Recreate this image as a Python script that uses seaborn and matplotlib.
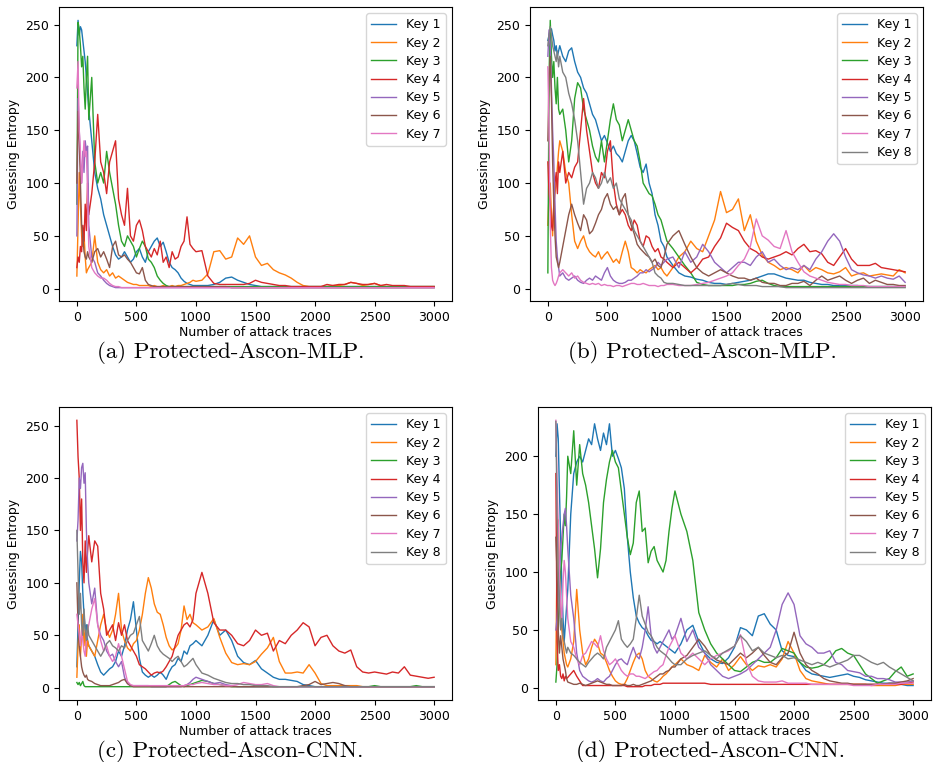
import matplotlib
matplotlib.use("Agg")
import matplotlib.pyplot as plt
import seaborn as sns
import pandas as pd

# ---------------- data ----------------
TRACES = [0, 10, 20, 30, 40, 50, 60, 70, 80, 90, 100,
          125, 150, 175, 200, 225, 250, 275, 300, 325, 350, 375, 400, 425, 450, 475, 500, 525, 550,
          575, 600, 625, 650, 675, 700, 725, 750, 775, 800, 825, 850, 875, 900, 925, 950, 975, 1000,
          1050, 1100, 1150, 1200, 1250, 1300, 1350, 1400, 1450, 1500, 1550, 1600, 1650, 1700, 1750, 1800, 1850, 1900, 1950, 2000,
          2050, 2100, 2150, 2200, 2250, 2300, 2350, 2400, 2450, 2500, 2550, 2600, 2650, 2700, 2750, 2800, 2850, 2900, 2950, 3000]

# ----- (a) Protected-Ascon-MLP, 7 keys -----
a_key1 = [230, 254, 240, 248, 245, 235, 225, 215, 200, 185, 170,
          140, 110, 95, 85, 70, 60, 50, 40, 32, 28, 30, 35, 30, 25, 28, 35, 38, 30,
          25, 35, 40, 45, 48, 40, 44, 35, 25, 20, 18, 15, 10, 7, 5, 4, 3, 3,
          3, 3, 4, 6, 10, 11, 8, 6, 4, 3, 2, 2, 2, 2, 2, 2, 2, 2, 2, 2,
          2, 2, 2, 2, 2, 2, 2, 2, 2, 2, 2, 2, 2, 2, 2, 2, 2, 2, 2, 2]
a_key2 = [12, 60, 110, 80, 50, 40, 52, 30, 15, 18, 20,
          25, 50, 25, 18, 15, 18, 12, 15, 10, 12, 10, 8, 6, 5, 4, 4, 3, 3,
          3, 3, 2, 3, 2, 2, 3, 2, 2, 3, 2, 3, 3, 4, 5, 6, 8, 7,
          8, 14, 35, 36, 28, 30, 48, 42, 50, 30, 22, 24, 18, 15, 13, 10, 6, 3, 2, 2,
          2, 2, 3, 3, 4, 6, 5, 3, 4, 5, 3, 2, 2, 2, 2, 2, 2, 2, 2, 2]
a_key3 = [80, 252, 245, 230, 210, 220, 190, 170, 200, 220, 160,
          200, 120, 100, 110, 100, 130, 110, 95, 80, 60, 45, 40, 50, 45, 40, 30, 38, 45,
          40, 28, 25, 20, 12, 8, 5, 3, 2, 2, 2, 2, 2, 2, 2, 2, 2, 2,
          2, 2, 2, 2, 2, 2, 2, 2, 2, 2, 2, 2, 2, 2, 2, 2, 2, 2, 2, 2,
          2, 2, 2, 2, 2, 2, 2, 2, 2, 2, 2, 2, 2, 2, 2, 2, 2, 2, 2, 2]
a_key4 = [20, 30, 25, 40, 35, 60, 45, 80, 55, 100, 70,
          90, 120, 165, 120, 110, 90, 120, 130, 140, 85, 70, 60, 95, 50, 45, 60, 65, 55,
          40, 35, 30, 38, 32, 45, 25, 30, 20, 35, 28, 30, 40, 45, 68, 42, 38, 35,
          36, 12, 5, 4, 4, 4, 4, 4, 5, 8, 6, 5, 4, 3, 3, 2, 2, 2, 2, 2,
          2, 4, 3, 4, 4, 6, 5, 4, 4, 5, 3, 4, 3, 3, 3, 2, 2, 2, 2, 2]
a_key5 = [50, 180, 150, 120, 100, 130, 110, 140, 130, 135, 60,
          30, 25, 15, 12, 8, 5, 3, 2, 1, 1, 1, 1, 1, 1, 1, 1, 1, 1,
          1, 1, 1, 1, 1, 1, 1, 1, 1, 1, 1, 1, 1, 1, 1, 1, 1, 1,
          1, 1, 1, 1, 1, 1, 1, 1, 1, 1, 1, 1, 1, 1, 1, 1, 1, 1, 1, 1,
          1, 1, 1, 1, 1, 1, 1, 1, 1, 1, 1, 1, 1, 1, 1, 1, 1, 1, 1, 1]
a_key6 = [100, 168, 140, 100, 60, 50, 35, 30, 28, 35, 30,
          25, 35, 38, 30, 35, 28, 20, 40, 45, 32, 30, 32, 28, 25, 20, 15, 14, 20,
          8, 4, 3, 2, 2, 2, 2, 2, 2, 2, 2, 2, 2, 2, 2, 2, 2, 2,
          2, 2, 2, 2, 2, 1, 1, 1, 1, 1, 1, 1, 1, 1, 1, 1, 1, 1, 1, 1,
          1, 1, 1, 1, 1, 1, 1, 1, 1, 1, 1, 1, 1, 1, 1, 1, 1, 1, 1, 1]
a_key7 = [190, 215, 150, 130, 100, 120, 140, 125, 130, 90, 40,
          20, 15, 12, 10, 10, 8, 5, 3, 2, 2, 1, 1, 1, 1, 1, 1, 1, 1,
          1, 1, 1, 1, 1, 1, 1, 1, 1, 1, 1, 1, 1, 1, 1, 1, 1, 1,
          1, 1, 1, 1, 1, 1, 1, 1, 1, 1, 1, 1, 1, 1, 1, 1, 1, 1, 1, 1,
          1, 1, 1, 1, 1, 1, 1, 1, 1, 1, 1, 1, 1, 1, 1, 1, 1, 1, 1, 1]

# ----- (b) Protected-Ascon-MLP, 8 keys -----
b_key1 = [235, 240, 245, 246, 240, 235, 225, 230, 220, 225, 230,
          220, 215, 225, 228, 215, 205, 200, 190, 185, 175, 165, 160, 150, 140, 145, 138, 130, 135,
          128, 125, 120, 130, 140, 145, 140, 128, 115, 110, 118, 100, 90, 70, 60, 45, 40, 30,
          22, 15, 12, 11, 9, 8, 6, 5, 5, 4, 5, 6, 7, 8, 10, 12, 14, 14, 12, 10,
          9, 8, 8, 6, 5, 4, 4, 3, 3, 3, 3, 3, 2, 2, 2, 2, 2, 2, 2, 2]
b_key2 = [60, 90, 100, 70, 50, 80, 90, 100, 115, 130, 140,
          130, 110, 100, 70, 45, 38, 45, 50, 40, 35, 32, 30, 35, 28, 32, 35, 30, 25,
          28, 24, 35, 45, 35, 20, 18, 15, 18, 16, 15, 18, 20, 22, 18, 20, 15, 12,
          20, 30, 35, 45, 38, 35, 50, 65, 92, 72, 75, 85, 55, 70, 45, 32, 25, 22, 18, 20,
          18, 15, 22, 16, 20, 18, 15, 14, 16, 20, 12, 14, 15, 12, 13, 14, 13, 12, 18, 15]
b_key3 = [15, 200, 254, 220, 200, 215, 190, 175, 200, 170, 165,
          170, 150, 120, 140, 180, 195, 190, 170, 160, 150, 135, 125, 120, 140, 120, 140, 160, 175,
          160, 155, 140, 150, 160, 150, 140, 135, 120, 100, 95, 90, 88, 80, 70, 65, 55, 45,
          38, 30, 22, 15, 6, 4, 3, 3, 3, 3, 3, 4, 4, 5, 7, 8, 5, 3, 2, 2,
          2, 2, 2, 2, 2, 2, 2, 2, 2, 2, 2, 2, 2, 2, 2, 2, 2, 2, 2, 2]
b_key4 = [120, 90, 80, 60, 55, 80, 100, 110, 90, 120, 110,
          130, 100, 110, 105, 115, 120, 150, 180, 150, 130, 110, 100, 95, 110, 105, 130, 140, 100,
          80, 70, 75, 70, 60, 55, 65, 60, 45, 40, 50, 48, 40, 35, 38, 30, 28, 25,
          20, 25, 20, 15, 20, 28, 30, 40, 48, 62, 58, 55, 45, 38, 35, 30, 28, 30, 32, 35,
          32, 38, 42, 35, 36, 33, 25, 22, 30, 38, 28, 22, 22, 22, 24, 20, 19, 18, 17, 16]
b_key5 = [220, 245, 230, 190, 150, 120, 80, 45, 30, 20, 12,
          15, 10, 8, 10, 12, 8, 6, 5, 8, 10, 8, 12, 10, 8, 15, 20, 12, 8,
          6, 5, 5, 6, 8, 8, 10, 12, 15, 15, 18, 16, 18, 20, 25, 22, 25, 28,
          30, 20, 35, 25, 30, 42, 35, 25, 20, 15, 20, 25, 25, 22, 30, 35, 25, 28, 22, 18,
          20, 18, 22, 18, 28, 35, 45, 52, 45, 30, 18, 15, 13, 12, 10, 12, 10, 9, 12, 6]
b_key6 = [140, 200, 220, 180, 120, 80, 50, 30, 25, 20, 25,
          40, 55, 70, 80, 70, 62, 55, 70, 65, 52, 55, 62, 70, 75, 85, 90, 80, 75,
          78, 70, 85, 90, 70, 60, 52, 42, 38, 35, 32, 30, 25, 28, 22, 20, 30, 42,
          50, 55, 42, 30, 20, 15, 12, 15, 18, 15, 12, 10, 10, 8, 10, 6, 5, 5, 3, 3,
          5, 5, 7, 3, 8, 12, 8, 10, 12, 8, 5, 8, 10, 5, 8, 6, 4, 4, 3, 3]
b_key7 = [210, 150, 60, 20, 8, 5, 3, 5, 8, 12, 15,
          18, 15, 12, 15, 10, 12, 8, 6, 5, 4, 5, 4, 5, 3, 4, 3, 3, 2,
          3, 3, 2, 3, 4, 5, 5, 4, 4, 5, 4, 3, 3, 3, 2, 3, 3, 4,
          4, 3, 3, 3, 4, 5, 6, 8, 10, 12, 15, 22, 28, 40, 66, 50, 46, 40, 38, 55,
          35, 25, 16, 12, 10, 8, 6, 5, 4, 4, 3, 3, 3, 2, 2, 2, 2, 2, 2, 2]
b_key8 = [230, 240, 248, 240, 230, 225, 220, 215, 225, 210, 220,
          205, 200, 185, 175, 160, 140, 110, 80, 95, 100, 110, 105, 95, 100, 110, 100, 105, 95,
          100, 85, 80, 75, 70, 65, 55, 50, 45, 40, 35, 30, 25, 15, 12, 10, 6, 5,
          5, 4, 3, 3, 3, 3, 3, 3, 3, 4, 5, 4, 3, 3, 3, 2, 2, 2, 2, 1,
          1, 1, 1, 1, 1, 1, 1, 1, 1, 1, 1, 1, 1, 1, 1, 1, 1, 1, 1, 1]

# ----- (c) Protected-Ascon-CNN, 8 keys -----
c_key1 = [20, 60, 100, 130, 120, 90, 70, 55, 60, 45, 40,
          35, 30, 22, 15, 12, 15, 18, 20, 25, 35, 30, 40, 55, 65, 82, 55, 28, 15,
          12, 10, 12, 10, 12, 15, 12, 8, 15, 20, 22, 28, 25, 35, 32, 40, 42, 45,
          40, 50, 65, 50, 55, 45, 30, 24, 22, 26, 18, 14, 10, 8, 8, 7, 6, 3, 2, 1,
          1, 1, 1, 1, 1, 1, 1, 1, 1, 1, 1, 1, 1, 1, 1, 1, 1, 1, 1, 1]
c_key2 = [10, 40, 60, 30, 50, 70, 40, 55, 30, 45, 40,
          35, 30, 45, 60, 70, 55, 48, 55, 70, 90, 55, 45, 38, 35, 42, 45, 55, 70,
          90, 105, 95, 80, 72, 70, 60, 48, 40, 36, 38, 42, 55, 78, 65, 70, 62, 60,
          55, 58, 66, 48, 33, 24, 22, 23, 22, 25, 32, 38, 48, 25, 14, 14, 15, 14, 22, 14,
          4, 2, 2, 2, 2, 2, 2, 1, 1, 1, 1, 1, 1, 1, 1, 1, 1, 1, 1, 1]
c_key3 = [5, 3, 5, 2, 4, 6, 2, 1, 1, 1, 1,
          1, 1, 1, 1, 1, 1, 1, 1, 1, 1, 1, 1, 1, 1, 1, 1, 1, 1,
          1, 1, 1, 1, 1, 1, 1, 1, 3, 5, 6, 4, 2, 1, 2, 3, 4, 5,
          7, 6, 4, 3, 2, 1, 1, 1, 1, 1, 1, 1, 1, 1, 1, 1, 1, 1, 1, 1,
          1, 1, 1, 1, 1, 1, 1, 1, 1, 2, 1, 1, 1, 1, 1, 1, 2, 1, 1, 1]
c_key4 = [255, 220, 200, 150, 180, 120, 100, 140, 110, 130, 145,
          120, 140, 135, 90, 75, 50, 55, 60, 45, 62, 50, 60, 45, 40, 35, 30, 22, 20,
          18, 15, 12, 14, 15, 14, 16, 20, 25, 30, 40, 50, 55, 60, 62, 58, 65, 90,
          110, 90, 62, 55, 55, 50, 42, 40, 45, 55, 50, 52, 35, 45, 42, 50, 55, 62, 58, 40,
          48, 50, 40, 35, 33, 36, 20, 15, 14, 15, 14, 13, 15, 14, 20, 12, 11, 10, 9, 10]
c_key5 = [140, 160, 200, 190, 210, 214, 195, 205, 150, 120, 100,
          80, 95, 60, 50, 45, 35, 30, 32, 25, 20, 25, 10, 4, 2, 2, 2, 2, 2,
          2, 2, 1, 1, 1, 1, 1, 1, 1, 1, 1, 1, 1, 2, 3, 5, 8, 10,
          8, 6, 4, 5, 3, 2, 1, 1, 1, 1, 1, 1, 1, 1, 1, 1, 1, 1, 1, 1,
          1, 1, 1, 1, 1, 1, 1, 1, 1, 1, 1, 1, 1, 1, 1, 1, 1, 1, 1, 1]
c_key6 = [100, 60, 40, 30, 20, 15, 12, 10, 12, 8, 7,
          6, 4, 3, 2, 2, 2, 2, 3, 4, 5, 7, 8, 4, 2, 1, 1, 1, 1,
          1, 1, 1, 1, 1, 1, 1, 1, 1, 1, 1, 1, 1, 1, 1, 1, 1, 1,
          1, 1, 1, 1, 1, 1, 1, 1, 1, 1, 1, 1, 1, 1, 1, 1, 1, 2, 3, 6,
          3, 4, 5, 4, 2, 1, 1, 1, 1, 1, 1, 1, 1, 1, 1, 1, 1, 1, 1, 1]
c_key7 = [70, 60, 50, 40, 55, 45, 35, 30, 45, 55, 60,
          75, 85, 60, 45, 35, 40, 30, 25, 30, 42, 30, 18, 6, 3, 2, 2, 2, 2,
          2, 2, 2, 2, 2, 2, 2, 2, 2, 2, 2, 2, 2, 2, 3, 3, 3, 4,
          5, 4, 3, 3, 2, 2, 3, 5, 4, 3, 3, 4, 2, 1, 1, 1, 1, 1, 1, 1,
          1, 1, 1, 1, 1, 1, 1, 1, 1, 1, 1, 1, 1, 1, 1, 1, 1, 1, 1, 1]
c_key8 = [150, 110, 70, 90, 60, 50, 75, 55, 45, 60, 50,
          45, 40, 35, 30, 35, 42, 45, 40, 38, 35, 40, 38, 45, 50, 52, 60, 68, 45,
          40, 35, 42, 50, 40, 35, 32, 30, 28, 25, 28, 30, 25, 20, 22, 25, 28, 22,
          14, 12, 9, 7, 5, 4, 4, 3, 3, 2, 2, 2, 1, 1, 1, 1, 1, 1, 1, 1,
          1, 1, 1, 1, 1, 1, 1, 1, 1, 1, 1, 1, 1, 1, 1, 1, 1, 1, 1, 1]

# ----- (d) Protected-Ascon-CNN, 8 keys -----
d_key1 = [200, 228, 215, 170, 130, 90, 60, 40, 55, 70, 85,
          150, 185, 195, 200, 195, 205, 215, 210, 228, 215, 205, 220, 210, 228, 200, 205, 198, 190,
          172, 130, 100, 78, 62, 56, 52, 50, 45, 41, 40, 38, 40, 38, 36, 34, 32, 30,
          38, 50, 54, 40, 30, 25, 22, 21, 26, 35, 52, 50, 45, 62, 64, 55, 50, 32, 28, 27,
          22, 15, 12, 11, 10, 9, 10, 11, 12, 10, 9, 7, 6, 5, 4, 4, 4, 3, 2, 2]
d_key2 = [20, 120, 145, 100, 70, 50, 40, 30, 25, 20, 18,
          25, 40, 85, 50, 30, 20, 25, 35, 42, 38, 30, 28, 22, 15, 10, 6, 4, 3,
          3, 8, 15, 22, 28, 30, 25, 15, 10, 8, 6, 5, 7, 10, 12, 15, 18, 20,
          25, 20, 18, 15, 28, 22, 18, 25, 15, 20, 27, 20, 15, 19, 18, 20, 18, 25, 40, 30,
          15, 8, 6, 5, 4, 3, 3, 3, 3, 3, 3, 3, 2, 2, 2, 2, 2, 3, 3, 3]
d_key3 = [5, 20, 50, 80, 100, 110, 130, 150, 140, 165, 200,
          185, 222, 175, 210, 185, 175, 160, 140, 120, 95, 120, 160, 180, 195, 205, 195, 190, 170,
          150, 130, 115, 125, 160, 170, 135, 138, 108, 118, 122, 110, 105, 100, 110, 135, 155, 170,
          150, 135, 110, 65, 50, 38, 30, 25, 20, 15, 14, 18, 22, 24, 22, 22, 26, 34, 32, 30,
          22, 18, 17, 18, 20, 25, 32, 34, 30, 28, 20, 12, 8, 4, 6, 8, 14, 18, 10, 12]
d_key4 = [185, 40, 15, 20, 10, 8, 12, 6, 10, 8, 9,
          12, 15, 10, 6, 2, 2, 2, 2, 2, 2, 2, 2, 2, 2, 2, 2, 2, 2,
          2, 1, 1, 1, 1, 1, 1, 2, 2, 2, 3, 3, 3, 4, 4, 4, 4, 4,
          4, 4, 4, 4, 4, 3, 3, 3, 3, 3, 3, 3, 3, 3, 3, 3, 3, 3, 3, 3,
          3, 3, 3, 3, 3, 3, 3, 3, 3, 3, 3, 3, 3, 3, 3, 3, 3, 3, 4, 5]
d_key5 = [50, 60, 80, 100, 120, 130, 140, 150, 155, 140, 120,
          80, 60, 30, 15, 10, 8, 6, 5, 6, 8, 6, 5, 8, 10, 15, 20, 24, 25,
          22, 20, 28, 35, 28, 25, 35, 50, 70, 45, 35, 30, 35, 40, 45, 50, 42, 45,
          60, 40, 50, 35, 30, 20, 15, 10, 8, 10, 12, 15, 20, 25, 30, 35, 50, 72, 82, 72,
          45, 38, 35, 30, 30, 32, 22, 20, 15, 14, 13, 10, 10, 8, 8, 7, 5, 5, 5, 6]
d_key6 = [130, 100, 50, 30, 45, 35, 25, 20, 15, 8, 5,
          4, 3, 3, 4, 3, 2, 3, 4, 5, 6, 5, 4, 3, 3, 2, 2, 2, 2,
          3, 2, 2, 3, 2, 2, 3, 4, 5, 6, 8, 10, 12, 12, 14, 15, 18, 18,
          25, 28, 35, 42, 36, 28, 24, 22, 20, 25, 30, 26, 30, 35, 28, 22, 20, 26, 30, 48,
          30, 20, 15, 12, 8, 6, 5, 4, 4, 3, 3, 3, 3, 3, 3, 4, 4, 5, 6, 8]
d_key7 = [231, 180, 140, 100, 70, 60, 90, 110, 100, 80, 60,
          40, 35, 25, 20, 28, 30, 35, 40, 38, 35, 45, 32, 25, 20, 22, 25, 20, 15,
          12, 10, 12, 12, 10, 10, 9, 8, 10, 12, 14, 15, 18, 20, 28, 35, 40, 45,
          30, 25, 30, 25, 20, 25, 28, 30, 32, 36, 46, 22, 10, 6, 5, 5, 5, 6, 4, 4,
          4, 4, 3, 3, 3, 3, 3, 3, 3, 2, 2, 2, 2, 3, 3, 3, 3, 4, 4, 4]
d_key8 = [230, 150, 100, 70, 50, 60, 45, 40, 35, 30, 35,
          30, 28, 25, 22, 20, 18, 22, 25, 28, 30, 28, 25, 35, 40, 45, 50, 58, 42,
          38, 35, 38, 42, 60, 80, 62, 55, 48, 45, 40, 35, 32, 30, 28, 25, 22, 20,
          20, 25, 28, 30, 32, 28, 25, 30, 33, 36, 45, 40, 32, 35, 30, 28, 26, 28, 25, 26,
          24, 22, 20, 22, 20, 18, 20, 22, 24, 28, 28, 25, 22, 20, 22, 18, 15, 12, 9, 6]

PANELS = [
    ("(a) Protected-Ascon-MLP.", [a_key1, a_key2, a_key3, a_key4, a_key5, a_key6, a_key7]),
    ("(b) Protected-Ascon-MLP.", [b_key1, b_key2, b_key3, b_key4, b_key5, b_key6, b_key7, b_key8]),
    ("(c) Protected-Ascon-CNN.", [c_key1, c_key2, c_key3, c_key4, c_key5, c_key6, c_key7, c_key8]),
    ("(d) Protected-Ascon-CNN.", [d_key1, d_key2, d_key3, d_key4, d_key5, d_key6, d_key7, d_key8]),
]

# ---------------- layout ----------------
W, H = 933, 762
AX_BOXES = [  # left, top, right, bottom in pixels
    (59, 7, 452, 301),
    (530, 7, 923, 301),
    (59, 407, 452, 700),
    (538, 407, 931, 700),
]
CAPTION_POS = [(231, 358), (702, 358), (230, 757), (710, 757)]

FS = 9
plt.rcParams['font.family'] = ['DejaVu Sans']
fig = plt.figure(figsize=(W / 100, H / 100), dpi=100)
palette = sns.color_palette("tab10")

for (caption, series), (l, t, r, b), (cx, cy) in zip(PANELS, AX_BOXES, CAPTION_POS):
    ax = fig.add_axes([l / W, (H - b) / H, (r - l) / W, (b - t) / H])
    rows = []
    for i, vals in enumerate(series):
        for xv, yv in zip(TRACES, vals):
            rows.append({"traces": xv, "ge": yv, "key": f"Key {i + 1}"})
    df = pd.DataFrame(rows)
    sns.lineplot(data=df, x="traces", y="ge", hue="key",
                 palette=palette[:len(series)], linewidth=1.0,
                 estimator=None, sort=False, ax=ax)
    ax.legend(loc="upper right", fontsize=FS, labelspacing=0.42)
    ax.set_xlabel("Number of attack traces", fontsize=FS, labelpad=1.5)
    ax.set_ylabel("Guessing Entropy", fontsize=FS)
    ax.tick_params(labelsize=FS)
    ax.set_xticks([0, 500, 1000, 1500, 2000, 2500, 3000])
    fig.text(cx / W, (H - cy) / H, caption, ha="center", va="baseline",
             family="cmr10", fontsize=16.6)

fig.savefig("out.png", dpi=100)
